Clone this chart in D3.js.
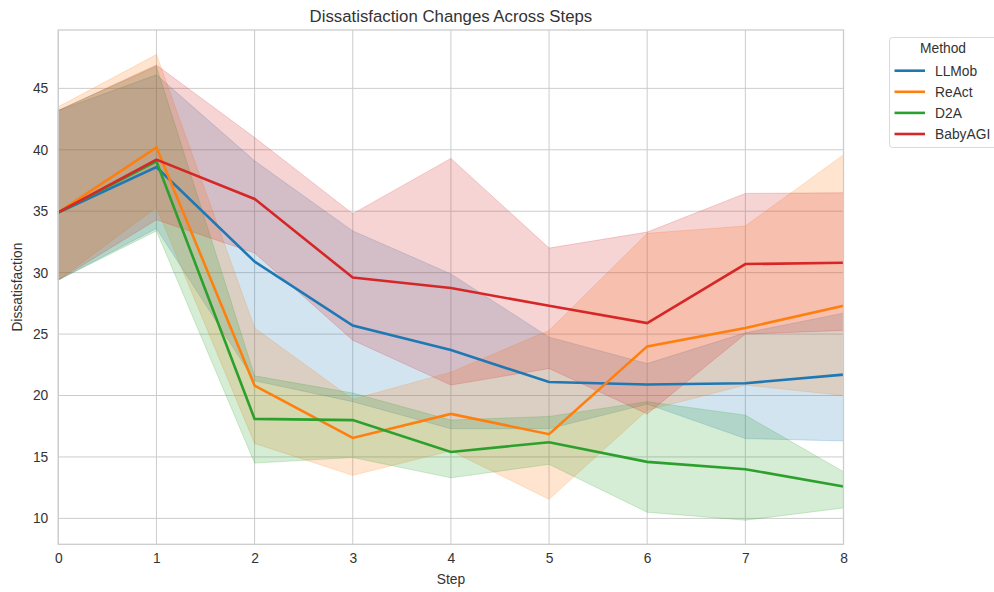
<!DOCTYPE html>
<html>
<head>
<meta charset="utf-8">
<script src="https://cdn.jsdelivr.net/npm/d3@7"></script>
<style>
  body { margin: 0; background: #fff; }
  text { font-family: "Liberation Sans", Arial, sans-serif; }
</style>
</head>
<body>
<div id="chart"></div>
<script>
// chart size
var width = 994, height = 592;
var margin = {left: 58.3, right: 150.5, top: 30, bottom: 47.7};

// data
var steps = [0, 1, 2, 3, 4, 5, 6, 7, 8];
var methods = ["LLMob", "ReAct", "D2A", "BabyAGI"];
var colors = ["#1f77b4", "#ff7f0e", "#2ca02c", "#d62728"];

var llmobMean = [34.9, 38.6, 30.9, 25.7, 23.7, 21.1, 20.9, 21.0, 21.7];
var llmobLow  = [29.4, 33.6, 21.2, 19.5, 17.3, 17.3, 19.3, 16.5, 16.3];
var llmobHigh = [43.2, 46.1, 39.1, 33.4, 29.9, 24.75, 22.6, 25.1, 26.7];

var reactMean = [34.9, 40.2, 20.8, 16.55, 18.5, 16.85, 24.0, 25.5, 27.3];
var reactLow  = [29.4, 35.3, 16.1, 13.5, 15.5, 11.55, 18.8, 20.85, 20.0];
var reactHigh = [43.5, 47.75, 25.5, 19.7, 21.9, 25.3, 33.2, 33.8, 39.6];

var d2aMean = [34.9, 39.05, 18.1, 18.0, 15.4, 16.2, 14.6, 14.0, 12.6];
var d2aLow  = [29.4, 33.4, 14.5, 14.95, 13.3, 14.4, 10.5, 9.85, 10.85];
var d2aHigh = [43.2, 46.8, 21.6, 20.2, 18.0, 18.3, 19.5, 18.4, 13.8];

var babyMean = [34.9, 39.2, 36.0, 29.6, 28.75, 27.3, 25.9, 30.7, 30.8];
var babyLow  = [29.4, 34.3, 31.6, 24.5, 20.85, 22.2, 18.5, 25.0, 25.3];
var babyHigh = [43.2, 46.9, 41.0, 34.8, 39.3, 32.0, 33.3, 36.45, 36.5];

var yTicks = [10, 15, 20, 25, 30, 35, 40, 45];

var series = [
  {name: methods[0], mean: llmobMean, low: llmobLow, high: llmobHigh},
  {name: methods[1], mean: reactMean, low: reactLow, high: reactHigh},
  {name: methods[2], mean: d2aMean, low: d2aLow, high: d2aHigh},
  {name: methods[3], mean: babyMean, low: babyLow, high: babyHigh}
];

var svg = d3.select("#chart").append("svg")
    .attr("width", width)
    .attr("height", height);

var x = d3.scaleLinear().domain([0, 8]).range([margin.left, width - margin.right]);
var y = d3.scaleLinear().domain([7.89, 49.75]).range([height - margin.bottom, margin.top]);
var color = d3.scaleOrdinal().domain(methods).range(colors);

var gridColor = "#cccccc", textColor = "#333333";

// grid
svg.append("g").selectAll("line.hgrid").data(yTicks).enter().append("line")
    .attr("x1", x.range()[0]).attr("x2", x.range()[1])
    .attr("y1", d => y(d)).attr("y2", d => y(d))
    .attr("stroke", gridColor).attr("stroke-width", 1);
svg.append("g").selectAll("line.vgrid").data(steps).enter().append("line")
    .attr("x1", d => x(d)).attr("x2", d => x(d))
    .attr("y1", y.range()[0]).attr("y2", y.range()[1])
    .attr("stroke", gridColor).attr("stroke-width", 1);

// confidence bands
var area = d3.area()
    .x(d => x(d.s))
    .y0(d => y(d.lo))
    .y1(d => y(d.hi));

series.forEach(function(s){
  var pts = steps.map((st, i) => ({s: st, lo: s.low[i], hi: s.high[i]}));
  svg.append("path")
    .attr("d", area(pts))
    .attr("fill", color(s.name))
    .attr("fill-opacity", 0.2)
    .attr("stroke", color(s.name))
    .attr("stroke-opacity", 0.2)
    .attr("stroke-width", 1);
});

// mean lines
var line = d3.line()
    .x(d => x(d.s))
    .y(d => y(d.v));

series.forEach(function(s){
  var pts = steps.map((st, i) => ({s: st, v: s.mean[i]}));
  svg.append("path")
    .attr("d", line(pts))
    .attr("fill", "none")
    .attr("stroke", color(s.name))
    .attr("stroke-width", 2.6)
    .attr("stroke-linejoin", "miter");
});

// spines
svg.append("rect")
    .attr("x", x.range()[0]).attr("y", y.range()[1])
    .attr("width", x.range()[1] - x.range()[0])
    .attr("height", y.range()[0] - y.range()[1])
    .attr("fill", "none").attr("stroke", gridColor).attr("stroke-width", 1.3);

// axes
var xAxis = svg.append("g")
    .attr("transform", "translate(0," + y.range()[0] + ")")
    .call(d3.axisBottom(x).tickValues(steps).tickFormat(d3.format("d")).tickSize(0).tickPadding(9));
var yAxis = svg.append("g")
    .attr("transform", "translate(" + x.range()[0] + ",0)")
    .call(d3.axisLeft(y).tickValues(yTicks).tickSize(0).tickPadding(10));

[xAxis, yAxis].forEach(function(g){
  g.select(".domain").remove();
  g.selectAll("text")
    .attr("fill", textColor)
    .style("font-size", "13.8px")
    .style("font-family", "'Liberation Sans', Arial, sans-serif");
});

// labels
svg.append("text")
    .attr("x", (x.range()[0] + x.range()[1]) / 2).attr("y", 22)
    .attr("text-anchor", "middle").attr("fill", textColor)
    .style("font-size", "16.8px")
    .text("Dissatisfaction Changes Across Steps");

svg.append("text")
    .attr("x", (x.range()[0] + x.range()[1]) / 2).attr("y", 584)
    .attr("text-anchor", "middle").attr("fill", textColor)
    .style("font-size", "13.8px")
    .text("Step");

svg.append("text")
    .attr("transform", "translate(22," + ((y.range()[0] + y.range()[1]) / 2) + ") rotate(-90)")
    .attr("text-anchor", "middle").attr("fill", textColor)
    .style("font-size", "13.8px")
    .text("Dissatisfaction");

// legend
var legend = svg.append("g").attr("transform", "translate(889.5,37.5)");
legend.append("rect")
    .attr("width", 120).attr("height", 110).attr("rx", 3)
    .attr("fill", "#fff").attr("fill-opacity", 0.8)
    .attr("stroke", "#d9d9d9").attr("stroke-width", 1);
legend.append("text")
    .attr("x", 53.5).attr("y", 15.5)
    .attr("text-anchor", "middle").attr("fill", textColor)
    .style("font-size", "13.8px")
    .text("Method");
var items = legend.selectAll("g.item").data(methods).enter().append("g")
    .attr("transform", (d, i) => "translate(0," + (33.2 + i * 21.1) + ")");
items.append("line")
    .attr("x1", 5).attr("x2", 35.5)
    .attr("stroke", d => color(d)).attr("stroke-width", 2.6);
items.append("text")
    .attr("x", 45.5).attr("y", 5)
    .attr("fill", textColor)
    .style("font-size", "13.8px")
    .text(d => d);
</script>
</body>
</html>
